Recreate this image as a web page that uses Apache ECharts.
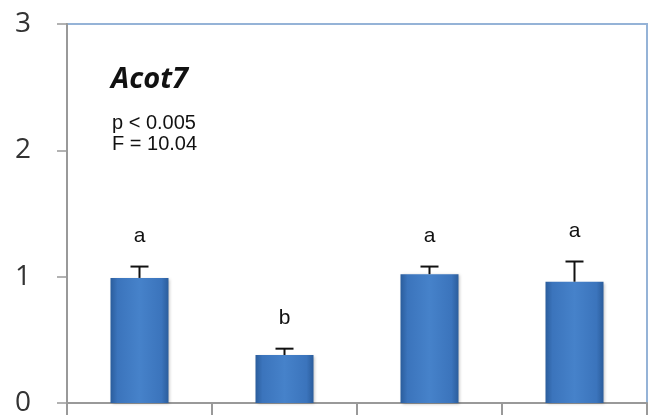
<!DOCTYPE html>
<html>
<head>
<meta charset="utf-8">
<script src="https://cdn.jsdelivr.net/npm/echarts@6/dist/echarts.min.js"></script>
<style>
  html, body { margin: 0; padding: 0; background: #fff; }
  #chart { width: 650px; height: 417px; }
</style>
</head>
<body>
<div id="chart"></div>
<script>
var groups = ['G1', 'G2', 'G3', 'G4'];
var means = [0.99, 0.38, 1.02, 0.96];
var errTops = [1.08, 0.43, 1.08, 1.12];
var letters = ['a', 'b', 'a', 'a'];
var yTicks = [0, 1, 2, 3];

var chart = echarts.init(document.getElementById('chart'));

var barColor = new echarts.graphic.LinearGradient(0, 0, 1, 0, [
    {offset: 0, color: '#2b5d9c'},
    {offset: 0.12, color: '#3b74bc'},
    {offset: 0.5, color: '#4682ca'},
    {offset: 0.88, color: '#3b74bc'},
    {offset: 1, color: '#2b5d9c'}
]);

var option = {
    animation: false,
    grid: {
        left: 67, right: 3, top: 24, bottom: 11,
        show: true,
        borderColor: '#95b3d7',
        borderWidth: 2
    },
    graphic: [
        {type: 'text', left: 111, top: 65,
         style: {text: 'Acot7', font: 'italic bold 29px "Open Sans"', fill: '#111'}},
        {type: 'text', left: 112, top: 113,
         style: {text: 'p < 0.005\nF = 10.04', font: '20px "Liberation Sans"', fill: '#111', lineHeight: 21}}
    ],
    xAxis: {
        type: 'category',
        data: groups,
        axisLine: {lineStyle: {color: '#999', width: 2}},
        axisTick: {show: true, interval: 0, length: 12, lineStyle: {color: '#999', width: 2}},
        axisLabel: {show: false}
    },
    yAxis: {
        type: 'value',
        min: 0, max: 3, interval: 1,
        axisLine: {show: true, lineStyle: {color: '#999', width: 2}},
        axisTick: {show: true, length: 10, lineStyle: {color: '#999', width: 1.5}},
        splitLine: {show: false},
        axisLabel: {
            margin: 36,
            fontSize: 28,
            color: '#333',
            fontFamily: 'Open Sans',
            formatter: function (v) { return yTicks.indexOf(v) >= 0 ? String(v) : ''; }
        }
    },
    series: [
        {
            type: 'bar',
            data: means,
            barWidth: '40%',
            itemStyle: {
                color: barColor,
                shadowColor: 'rgba(0,0,0,0.25)',
                shadowBlur: 3,
                shadowOffsetX: 1,
                shadowOffsetY: 1
            }
        },
        {
            type: 'custom',
            data: groups.map(function (g, i) { return [i, means[i], errTops[i]]; }),
            z: 5,
            renderItem: function (params, api) {
                var base = api.coord([api.value(0), api.value(1)]);
                var top = api.coord([api.value(0), api.value(2)]);
                var half = 9;
                return {
                    type: 'group',
                    children: [
                        {type: 'line', shape: {x1: base[0], y1: base[1], x2: top[0], y2: top[1]},
                         style: {stroke: '#111', lineWidth: 2}},
                        {type: 'line', shape: {x1: top[0] - half, y1: top[1], x2: top[0] + half, y2: top[1]},
                         style: {stroke: '#111', lineWidth: 2}},
                        {type: 'text', x: top[0], y: top[1] - 30,
                         style: {text: letters[params.dataIndex], font: '21px "Liberation Sans"',
                                 fill: '#111', align: 'center', verticalAlign: 'middle'}}
                    ]
                };
            }
        }
    ]
};

chart.setOption(option);
</script>
</body>
</html>
